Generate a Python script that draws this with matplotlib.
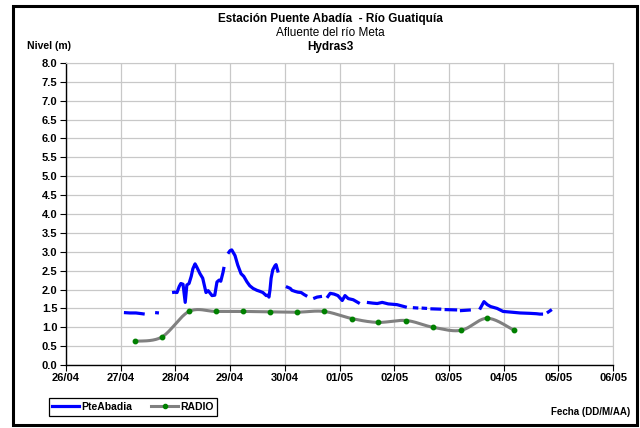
import numpy as np
import matplotlib
matplotlib.use("Agg")
import matplotlib.pyplot as plt
from matplotlib.lines import Line2D
from matplotlib.patches import Rectangle

plt.rcParams['font.family'] = ['Liberation Sans', 'DejaVu Sans']

nan = np.nan

# dias desde 26/04 y nivel (m), NaN = hueco en la serie
pte_dias = [1.06, 1.17, 1.28, 1.39, 1.44, nan,
            1.63, 1.70, nan,
            1.94, 1.99, 2.03, 2.07, 2.10, 2.14, 2.18, 2.21, 2.25, 2.29, 2.32, 2.36, 2.39,
            2.45, 2.50, 2.56, 2.60, 2.67, 2.72, 2.76, 2.80, 2.83, 2.87, 2.89, nan,
            2.96, 3.00, 3.03, 3.09, 3.14, 3.20, 3.25, 3.31, 3.36, 3.42, 3.49, 3.55, 3.60,
            3.66, 3.69, 3.71, 3.73, 3.75, 3.78, 3.82, 3.84, 3.88, nan,
            4.02, 4.10, 4.13, 4.19, 4.24, 4.30, 4.35, 4.41, nan,
            4.52, 4.59, 4.68, nan,
            4.77, 4.83, 4.90, 4.97, 5.05, 5.10, 5.16, 5.25, 5.37, nan,
            5.50, 5.61, 5.69, 5.78, 5.89, 6.05, 6.23, nan,
            6.34, 6.44, nan, 6.50, 6.60, nan, 6.66, 6.86, nan, 6.92, 7.15, nan,
            7.20, 7.40, nan, 7.56, 7.64, 7.70, 7.76, 7.88, 7.99, 8.15, 8.30, 8.48, 8.60, 8.66, 8.72, nan,
            8.79, 8.88]
pte_nivel = [1.39, 1.38, 1.38, 1.36, 1.35, nan,
             1.39, 1.38, nan,
             1.92, 1.93, 1.92, 2.08, 2.16, 2.14, 1.66, 2.12, 2.16, 2.35, 2.55, 2.68, 2.60,
             2.42, 2.30, 1.92, 1.97, 1.84, 1.85, 2.20, 2.25, 2.22, 2.45, 2.60, nan,
             2.95, 3.03, 3.05, 2.90, 2.65, 2.42, 2.35, 2.20, 2.10, 2.03, 1.98, 1.95, 1.92,
             1.84, 1.85, 1.80, 2.00, 2.30, 2.52, 2.63, 2.66, 2.45, nan,
             2.08, 2.03, 1.98, 1.95, 1.93, 1.92, 1.87, 1.82, nan,
             1.76, 1.80, 1.82, nan,
             1.78, 1.90, 1.88, 1.84, 1.71, 1.84, 1.76, 1.73, 1.63, nan,
             1.66, 1.64, 1.63, 1.66, 1.62, 1.60, 1.53, nan,
             1.52, 1.51, nan, 1.51, 1.50, nan, 1.49, 1.48, nan, 1.47, 1.46, nan,
             1.44, 1.46, nan, 1.47, 1.68, 1.60, 1.55, 1.50, 1.42, 1.40, 1.38, 1.37, 1.36, 1.35, 1.35, nan,
             1.38, 1.47]

radio_dias = [1.26, 1.75, 2.25, 2.74, 3.24, 3.73, 4.22, 4.72, 5.23, 5.70, 6.22, 6.71, 7.22, 7.70, 8.19]
radio_nivel = [0.63, 0.74, 1.42, 1.42, 1.42, 1.41, 1.40, 1.42, 1.23, 1.13, 1.18, 1.00, 0.92, 1.24, 0.92]

fechas = ['26/04', '27/04', '28/04', '29/04', '30/04', '01/05',
          '02/05', '03/05', '04/05', '05/05', '06/05']


def suavizar(x, y, n=20):
    # curva tipo Excel (Catmull-Rom) entre los puntos
    x = np.asarray(x, float)
    y = np.asarray(y, float)
    px = np.concatenate([[x[0]], x, [x[-1]]])
    py = np.concatenate([[y[0]], y, [y[-1]]])
    xs, ys = [], []
    t = np.linspace(0, 1, n, endpoint=False)
    for i in range(1, len(px) - 2):
        for p, out in ((px, xs), (py, ys)):
            p0, p1, p2, p3 = p[i - 1], p[i], p[i + 1], p[i + 2]
            out.extend(0.5 * ((2 * p1) + (-p0 + p2) * t
                              + (2 * p0 - 5 * p1 + 4 * p2 - p3) * t ** 2
                              + (-p0 + 3 * p1 - 3 * p2 + p3) * t ** 3))
    xs.append(x[-1])
    ys.append(y[-1])
    return xs, ys


fig = plt.figure(figsize=(6.4, 4.28), dpi=100)
ax = fig.add_axes([0.103, 0.147, 0.855, 0.706])

gris = '#808080'
ax.plot(pte_dias, pte_nivel, color='#0000ff', lw=2.3, solid_capstyle='butt', zorder=3)
sx, sy = suavizar(radio_dias, radio_nivel)
ax.plot(sx, sy, color=gris, lw=2.2, zorder=2)
ax.plot(radio_dias, radio_nivel, ls='none', marker='o', ms=3.2, color='#008000', zorder=4)

ax.set_xlim(0, 10)
ax.set_ylim(0, 8)
ax.set_xticks(range(len(fechas)))
ax.set_xticklabels(fechas, fontweight='bold', fontsize=8)
ax.set_yticks(np.arange(0, 8.01, 0.5))
ax.set_yticklabels(['%.1f' % v for v in np.arange(0, 8.01, 0.5)], fontweight='bold', fontsize=8)
ax.tick_params(length=4, width=0.8, pad=2)
ax.grid(True, color='#c8c8c8', lw=0.9)
ax.set_axisbelow(True)
for s in ['top', 'right']:
    ax.spines[s].set_color('#c8c8c8')
for s in ['left', 'bottom']:
    ax.spines[s].set_linewidth(1.0)

fig.text(0.516, 0.956, 'Estación Puente Abadía  - Río Guatiquía', ha='center', va='center',
         fontsize=8.5, fontweight='bold')
fig.text(0.516, 0.923, 'Afluente del río Meta', ha='center', va='center', fontsize=8.5)
fig.text(0.516, 0.890, 'Hydras3', ha='center', va='center', fontsize=8.5, fontweight='bold')
fig.text(0.077, 0.892, 'Nivel (m)', ha='center', va='center', fontsize=7.5, fontweight='bold')
fig.text(0.984, 0.037, 'Fecha (DD/M/AA)', ha='right', va='center', fontsize=7, fontweight='bold')

h1 = Line2D([], [], color='#0000ff', lw=2.3)
h2 = Line2D([], [], color=gris, lw=2.2, marker='o', ms=3, mfc='#008000', mec='#008000')
leg = fig.legend([h1, h2], ['PteAbadia', 'RADIO'], loc='center left',
                 bbox_to_anchor=(0.076, 0.049), ncol=2, fancybox=False,
                 edgecolor='black', framealpha=1, prop={'size': 7.5, 'weight': 'bold'},
                 handlelength=2.6, handletextpad=0.2, columnspacing=1.8,
                 borderpad=0.35, borderaxespad=0)
leg.get_frame().set_linewidth(0.9)

fig.patches.append(Rectangle((0.021, 0.006), 0.975, 0.981, transform=fig.transFigure,
                             fill=False, edgecolor='black', lw=2.2))

fig.savefig('out.png', dpi=100)
